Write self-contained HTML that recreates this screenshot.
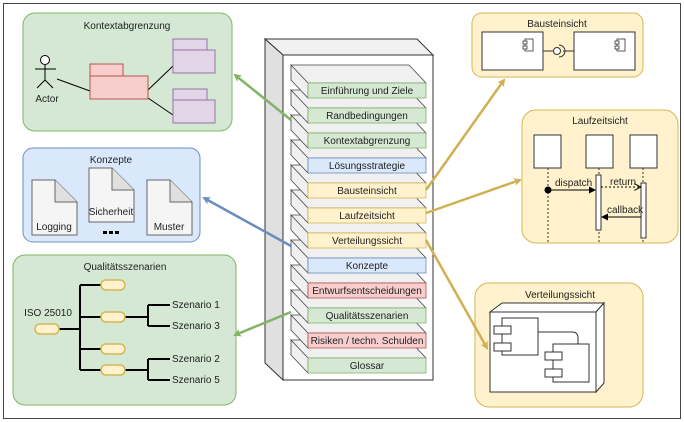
<!DOCTYPE html>
<html><head><meta charset="utf-8"><style>
html,body{margin:0;padding:0;background:#fff}
svg{display:block}
text{font-family:"Liberation Sans",sans-serif;font-size:10px;fill:#222}
</style></head><body>
<svg width="684" height="422" viewBox="0 0 684 422" xmlns="http://www.w3.org/2000/svg">
<defs>
<marker id="ag" markerWidth="8" markerHeight="8" refX="6" refY="4" orient="auto" markerUnits="userSpaceOnUse"><path d="M0,0 L8,4 L0,8 L2,4z" fill="#82b366"/></marker>
<marker id="ab" markerWidth="8" markerHeight="8" refX="6" refY="4" orient="auto" markerUnits="userSpaceOnUse"><path d="M0,0 L8,4 L0,8 L2,4z" fill="#6c8ebf"/></marker>
<marker id="ay" markerWidth="8" markerHeight="8" refX="6" refY="4" orient="auto" markerUnits="userSpaceOnUse"><path d="M0,0 L8,4 L0,8 L2,4z" fill="#d0b050"/></marker>
<marker id="ak" markerWidth="7" markerHeight="7" refX="6" refY="3.5" orient="auto" markerUnits="userSpaceOnUse"><path d="M0,0 L7,3.5 L0,7z" fill="#000"/></marker>
<marker id="ao" markerWidth="7" markerHeight="7" refX="6" refY="3.5" orient="auto" markerUnits="userSpaceOnUse"><path d="M0,0 L7,3.5 L0,7" fill="none" stroke="#000"/></marker>
</defs>
<rect x="3.5" y="3.5" width="677" height="415" fill="#fff" stroke="#444"/>

<!-- Kontextabgrenzung -->
<rect x="23" y="13" width="209" height="118" rx="12" fill="#d5e8d4" stroke="#82b366"/>
<text x="127" y="29" text-anchor="middle">Kontextabgrenzung</text>
<circle cx="45" cy="60" r="4.5" fill="#fff" stroke="#000"/>
<path d="M45,65 V80 M35,69 H56 M45,80 L37,88 M45,80 L53,88" stroke="#000" fill="none"/>
<text x="47" y="102" text-anchor="middle">Actor</text>
<path d="M57,79 L90,91 M148,90 L173,66 M148,98 L173,115" stroke="#000"/>
<rect x="90" y="64" width="33" height="12" fill="#f8cecc" stroke="#b85450"/>
<rect x="90" y="76" width="58" height="23" fill="#f8cecc" stroke="#b85450"/>
<rect x="173" y="39" width="34" height="11" fill="#e1d5e7" stroke="#9673a6"/>
<rect x="173" y="50" width="42" height="23" fill="#e1d5e7" stroke="#9673a6"/>
<rect x="173" y="89" width="34" height="11" fill="#e1d5e7" stroke="#9673a6"/>
<rect x="173" y="100" width="42" height="23" fill="#e1d5e7" stroke="#9673a6"/>

<!-- Konzepte -->
<rect x="23" y="148" width="177" height="94" rx="10" fill="#dae8fc" stroke="#6c8ebf"/>
<text x="111" y="163" text-anchor="middle">Konzepte</text>
<g fill="#f5f5f5" stroke="#666">
<path d="M32,180 H55 L77,202 V235 H32 Z"/><path d="M55,180 V202 H77" fill="#e0e0e0"/>
<path d="M89,168 H112 L134,190 V222 H89 Z"/><path d="M112,168 V190 H134" fill="#e0e0e0"/>
<path d="M147,180 H170 L192,202 V235 H147 Z"/><path d="M170,180 V202 H192" fill="#e0e0e0"/>
</g>
<text x="54" y="230" text-anchor="middle">Logging</text>
<text x="111" y="215" text-anchor="middle">Sicherheit</text>
<text x="169" y="230" text-anchor="middle">Muster</text>
<path d="M103,231 h4 v3 h-4z M109,231 h4 v3 h-4z M115,231 h4 v3 h-4z" fill="#000"/>

<!-- Qualitätsszenarien -->
<rect x="13" y="255" width="223" height="150" rx="12" fill="#d5e8d4" stroke="#82b366"/>
<text x="125" y="270" text-anchor="middle">Qualitätsszenarien</text>
<text x="48" y="316" text-anchor="middle">ISO 25010</text>
<path d="M59,329 H80 M80,285 V370 M80,285 H101 M80,317 H101 M80,349 H101 M80,370 H101 M125,317 H148 M148,305 V326 M148,305 H170 M148,326 H170 M125,370 H148 M148,359 V380 M148,359 H170 M148,380 H170" stroke="#000" stroke-width="2" fill="none"/>
<g fill="#fff2cc" stroke="#d6b656" stroke-width="1.5">
<rect x="35" y="324" width="24" height="10" rx="5"/>
<rect x="101" y="280" width="24" height="10" rx="5"/>
<rect x="101" y="312" width="24" height="10" rx="5"/>
<rect x="101" y="344" width="24" height="10" rx="5"/>
<rect x="101" y="365" width="24" height="10" rx="5"/>
</g>
<text x="172" y="308">Szenario 1</text>
<text x="172" y="329">Szenario 3</text>
<text x="172" y="362">Szenario 2</text>
<text x="172" y="383">Szenario 5</text>

<!-- central stack -->
<path d="M265,39 L417,39 L433,55 L283,55 Z" fill="#f0f0f0" stroke="#333"/>
<path d="M265,39 L283,55 L283,380 L265,363 Z" fill="#e0e0e0" stroke="#333"/>
<rect x="283" y="55" width="150" height="325" fill="#fff" stroke="#333"/>

<g stroke="#444" stroke-width="0.8">
<path d="M291,340 L409,340 L426,358 L308,358 Z M291,340 L308,358 L308,373 L291,355 Z" fill="#f0f0f0"/><rect x="308" y="358" width="118" height="15" fill="#d5e8d4" stroke="#82b366"/>
<path d="M291,315 L409,315 L426,333 L308,333 Z M291,315 L308,333 L308,348 L291,330 Z" fill="#f0f0f0"/><rect x="308" y="333" width="118" height="15" fill="#f8cecc" stroke="#b85450"/>
<path d="M291,290 L409,290 L426,308 L308,308 Z M291,290 L308,308 L308,323 L291,305 Z" fill="#f0f0f0"/><rect x="308" y="308" width="118" height="15" fill="#d5e8d4" stroke="#82b366"/>
<path d="M291,265 L409,265 L426,283 L308,283 Z M291,265 L308,283 L308,298 L291,280 Z" fill="#f0f0f0"/><rect x="308" y="283" width="118" height="15" fill="#f8cecc" stroke="#b85450"/>
<path d="M291,240 L409,240 L426,258 L308,258 Z M291,240 L308,258 L308,273 L291,255 Z" fill="#f0f0f0"/><rect x="308" y="258" width="118" height="15" fill="#dae8fc" stroke="#6c8ebf"/>
<path d="M291,215 L409,215 L426,233 L308,233 Z M291,215 L308,233 L308,248 L291,230 Z" fill="#f0f0f0"/><rect x="308" y="233" width="118" height="15" fill="#fff2cc" stroke="#d6b656"/>
<path d="M291,190 L409,190 L426,208 L308,208 Z M291,190 L308,208 L308,223 L291,205 Z" fill="#f0f0f0"/><rect x="308" y="208" width="118" height="15" fill="#fff2cc" stroke="#d6b656"/>
<path d="M291,165 L409,165 L426,183 L308,183 Z M291,165 L308,183 L308,198 L291,180 Z" fill="#f0f0f0"/><rect x="308" y="183" width="118" height="15" fill="#fff2cc" stroke="#d6b656"/>
<path d="M291,140 L409,140 L426,158 L308,158 Z M291,140 L308,158 L308,173 L291,155 Z" fill="#f0f0f0"/><rect x="308" y="158" width="118" height="15" fill="#dae8fc" stroke="#6c8ebf"/>
<path d="M291,115 L409,115 L426,133 L308,133 Z M291,115 L308,133 L308,148 L291,130 Z" fill="#f0f0f0"/><rect x="308" y="133" width="118" height="15" fill="#d5e8d4" stroke="#82b366"/>
<path d="M291,90 L409,90 L426,108 L308,108 Z M291,90 L308,108 L308,123 L291,105 Z" fill="#f0f0f0"/><rect x="308" y="108" width="118" height="15" fill="#d5e8d4" stroke="#82b366"/>
<path d="M291,65 L409,65 L426,83 L308,83 Z M291,65 L308,83 L308,98 L291,80 Z" fill="#f0f0f0"/><rect x="308" y="83" width="118" height="15" fill="#d5e8d4" stroke="#82b366"/>
</g>
<g text-anchor="middle">
<text x="367" y="94">Einführung und Ziele</text>
<text x="367" y="119">Randbedingungen</text>
<text x="367" y="144">Kontextabgrenzung</text>
<text x="367" y="169">Lösungsstrategie</text>
<text x="367" y="194">Bausteinsicht</text>
<text x="367" y="219">Laufzeitsicht</text>
<text x="367" y="244">Verteilungssicht</text>
<text x="367" y="269">Konzepte</text>
<text x="367" y="294">Entwurfsentscheidungen</text>
<text x="367" y="319">Qualitätsszenarien</text>
<text x="367" y="344">Risiken / techn. Schulden</text>
<text x="367" y="369">Glossar</text>
</g>

<!-- Bausteinsicht -->
<rect x="472" y="13" width="171" height="64" rx="10" fill="#fff2cc" stroke="#d6b656"/>
<text x="557" y="27" text-anchor="middle">Bausteinsicht</text>
<rect x="482" y="32" width="61" height="38" fill="#fff" stroke="#333"/>
<rect x="574" y="32" width="61" height="38" fill="#fff" stroke="#333"/>
<path d="M543,51 H555 M563,51 H574" stroke="#333"/>
<circle cx="557" cy="51" r="3.5" fill="#fff" stroke="#333"/>
<path d="M559,45 A6,6 0 0 1 559,57" fill="none" stroke="#333"/>
<g fill="#fff" stroke="#333" stroke-width="0.8">
<rect x="525" y="39" width="8" height="12"/><rect x="523" y="41" width="4" height="3"/><rect x="523" y="46" width="4" height="3"/>
<rect x="617" y="39" width="8" height="12"/><rect x="615" y="41" width="4" height="3"/><rect x="615" y="46" width="4" height="3"/>
</g>

<!-- Laufzeitsicht -->
<rect x="522" y="110" width="156" height="133" rx="14" fill="#fff2cc" stroke="#d6b656"/>
<text x="600" y="124" text-anchor="middle">Laufzeitsicht</text>
<rect x="534" y="135" width="27" height="33" fill="#fff" stroke="#333"/>
<rect x="586" y="135" width="27" height="33" fill="#fff" stroke="#333"/>
<rect x="630" y="135" width="27" height="33" fill="#fff" stroke="#333"/>
<path d="M548,168 V243 M599,168 V243 M643,168 V243" stroke="#333" stroke-dasharray="2,2"/>
<rect x="596" y="175" width="5" height="55" fill="#fff" stroke="#333"/>
<rect x="641" y="183" width="5" height="55" fill="#fff" stroke="#333"/>
<circle cx="548" cy="190" r="3.5" fill="#000"/>
<path d="M548,190 H595" stroke="#000" marker-end="url(#ak)"/>
<path d="M601,187 H640" stroke="#000" stroke-dasharray="2,2" marker-end="url(#ao)"/>
<path d="M641,217 H602" stroke="#000" marker-end="url(#ak)"/>
<text x="555" y="186" font-size="9">dispatch</text>
<text x="610" y="185" font-size="9">return</text>
<text x="607" y="213" font-size="9">callback</text>

<!-- Verteilungssicht -->
<rect x="475" y="283" width="168" height="124" rx="14" fill="#fff2cc" stroke="#d6b656"/>
<text x="560" y="298" text-anchor="middle">Verteilungssicht</text>
<path d="M490,312 L502,303 L604,303 L596,312 Z" fill="#fff" stroke="#333"/>
<path d="M596,312 L604,303 L604,383 L596,392 Z" fill="#fff" stroke="#333"/>
<rect x="490" y="312" width="106" height="80" fill="#fff" stroke="#333"/>
<rect x="502" y="318" width="36" height="37" fill="#fff" stroke="#333"/>
<rect x="494" y="326" width="17" height="8" fill="#fff" stroke="#333"/>
<rect x="494" y="343" width="17" height="8" fill="#fff" stroke="#333"/>
<rect x="553" y="344" width="36" height="38" fill="#fff" stroke="#333"/>
<rect x="545" y="352" width="17" height="8" fill="#fff" stroke="#333"/>
<rect x="545" y="369" width="17" height="8" fill="#fff" stroke="#333"/>
<path d="M538,332 H572 Q578,332 578,338 V344" fill="none" stroke="#333"/>

<!-- arrows -->
<g stroke-width="2.5" fill="none">
<path d="M291,120 L235,75" stroke="#82b366" marker-end="url(#ag)"/>
<path d="M291,246 L204,198" stroke="#6c8ebf" marker-end="url(#ab)"/>
<path d="M291,312 L235,335" stroke="#82b366" marker-end="url(#ag)"/>
<path d="M426,190 L504,80" stroke="#d0b050" marker-end="url(#ay)"/>
<path d="M426,213 L520,180" stroke="#d0b050" marker-end="url(#ay)"/>
<path d="M426,240 L487,348" stroke="#d0b050" marker-end="url(#ay)"/>
</g>
</svg>
</body></html>
